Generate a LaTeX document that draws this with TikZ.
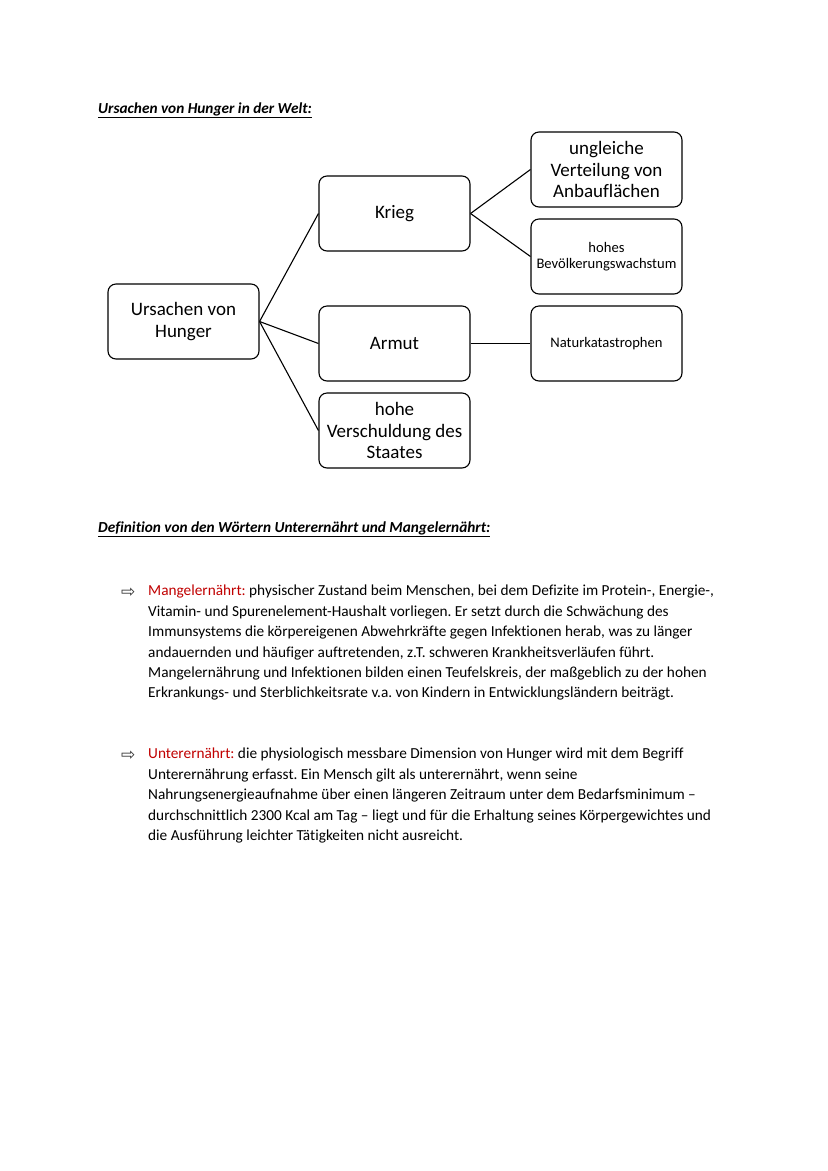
\documentclass[tikz,border=0pt]{standalone}
\usepackage{fontspec}
\setmainfont{Carlito}[Ligatures={NoCommon}]
\newfontfamily\symfont{DejaVu Sans}
\usepackage{tikz}
\definecolor{wortrot}{HTML}{C00000}
\newcommand{\pfeil}{{\symfont\char"21E8}}
\frenchspacing

\begin{document}
\begin{tikzpicture}[x=1pt, y=-1pt,
    kasten/.style={draw, rounded corners=8pt, line width=1.1pt, minimum width=151pt,
        minimum height=75pt, align=center, inner sep=2pt},
    gross/.style={font=\fontsize{19}{21.5}\selectfont},
    klein/.style={font=\fontsize{14.6}{16}\selectfont},
    linie/.style={line width=1.1pt},
    absatz/.style={anchor=north west, align=left, inner sep=0pt,
        font=\fontsize{15.3}{20.4}\selectfont}]
    % Seitenrand
    \useasboundingbox (0,0) rectangle (828,1171);

    % Ueberschrift
    \node[anchor=base west, inner sep=0pt, font=\fontsize{15.3}{18}\selectfont\bfseries\itshape]
        (titel1) at (98,113) {\underline{Ursachen von Hunger in der Welt:}};

    % Kaesten
    \node[kasten, gross] (ursachen) at (183.5,321.5) {Ursachen von\\Hunger};
    \node[kasten, gross] (krieg) at (394.5,213.5) {Krieg};
    \node[kasten, gross] (armut) at (394.5,343.5) {Armut};
    \node[kasten, gross] (schulden) at (394.5,430.5) {hohe\\Verschuldung des\\Staates};
    \node[kasten, gross] (verteilung) at (606.5,169.5) {ungleiche\\Verteilung von\\Anbauflächen};
    \node[kasten, klein] (wachstum) at (606.5,256.5) {hohes\\Bevölkerungswachstum};
    \node[kasten, klein] (natur) at (606.5,343.5) {Naturkatastrophen};

    % Verbindungen
    \draw[linie] (ursachen.east) -- (krieg.west);
    \draw[linie] (ursachen.east) -- (armut.west);
    \draw[linie] (ursachen.east) -- (schulden.west);
    \draw[linie] (krieg.east) -- (verteilung.west);
    \draw[linie] (krieg.east) -- (wachstum.west);
    \draw[linie] (armut.east) -- (natur.west);

    % Definitionen
    \node[anchor=base west, inner sep=0pt, font=\fontsize{15.3}{18}\selectfont\bfseries\itshape]
        (titel2) at (98,532) {\underline{Definition von den Wörtern Unterernährt und Mangelernährt:}};

    \node[anchor=base west, inner sep=0pt, font=\fontsize{17}{18}\selectfont, text=black!80]
        (pfeil1) at (121,597) {\pfeil};
    \node[absatz] (mangel) at (148,585) {\textcolor{wortrot}{Mangelernährt:} physischer Zustand beim Menschen, bei dem Defizite im Protein-, Energie-,\\
        Vitamin- und Spurenelement-Haushalt vorliegen. Er setzt durch die Schwächung des\\
        Immunsystems die körpereigenen Abwehrkräfte gegen Infektionen herab, was zu länger\\
        andauernden und häufiger auftretenden, z.T. schweren Krankheitsverläufen führt.\\
        Mangelernährung und Infektionen bilden einen Teufelskreis, der maßgeblich zu der hohen\\
        Erkrankungs- und Sterblichkeitsrate v.a. von Kindern in Entwicklungsländern beiträgt.};

    \node[anchor=base west, inner sep=0pt, font=\fontsize{17}{18}\selectfont, text=black!80]
        (pfeil2) at (121,760) {\pfeil};
    \node[absatz] (unter) at (148,748) {\textcolor{wortrot}{Unterernährt:} die physiologisch messbare Dimension von Hunger wird mit dem Begriff\\
        Unterernährung erfasst. Ein Mensch gilt als unterernährt, wenn seine\\
        Nahrungsenergieaufnahme über einen längeren Zeitraum unter dem Bedarfsminimum –\\
        durchschnittlich 2300 Kcal am Tag – liegt und für die Erhaltung seines Körpergewichtes und\\
        die Ausführung leichter Tätigkeiten nicht ausreicht.};
\end{tikzpicture}
\end{document}
